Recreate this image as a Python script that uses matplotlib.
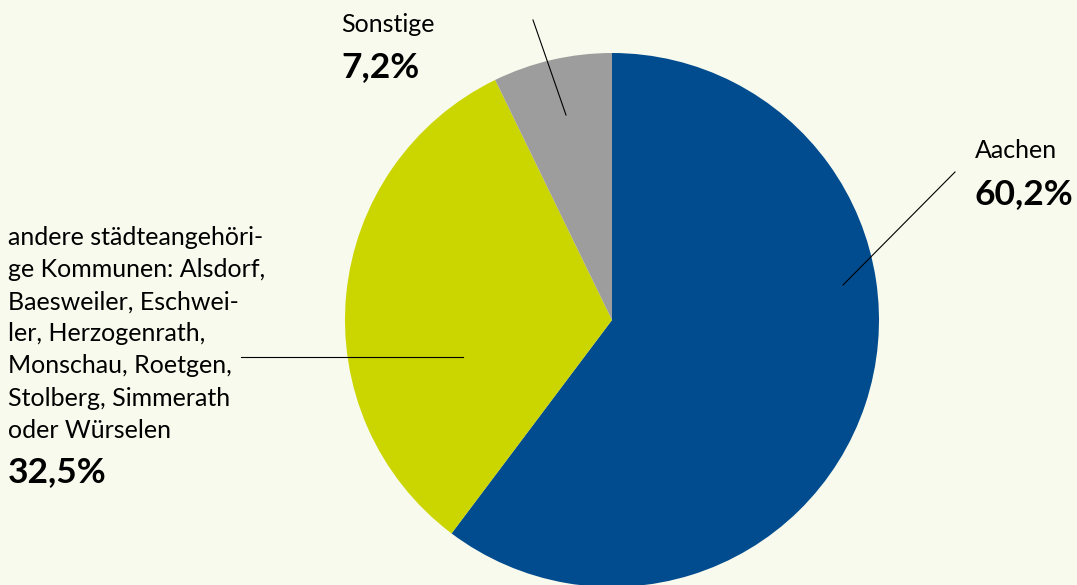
import matplotlib
matplotlib.use("Agg")
import matplotlib.pyplot as plt

# ===== DATA =====
labels = ["Aachen",
          "andere städteangehöri-\nge Kommunen: Alsdorf,\nBaesweiler, Eschwei-\nler, Herzogenrath,\nMonschau, Roetgen,\nStolberg, Simmerath\noder Würselen",
          "Sonstige"]
shares = [60.2, 32.5, 7.2]
pct_labels = ["60,2%", "32,5%", "7,2%"]
colors = ["#004c8e", "#cbd500", "#9d9d9d"]

BG = "#f8faee"
W, H = 1077, 585
plt.rcParams["font.family"] = ["Lato", "DejaVu Sans"]

fig = plt.figure(figsize=(W / 100, H / 100), dpi=100, facecolor=BG)
ax = fig.add_axes([0, 0, 1, 1])
ax.set_facecolor(BG)

# pie in pixel coordinates (y flipped: 0 at bottom)
cx, cy, r = 612, H - 320, 267
ax.pie(shares, colors=colors, startangle=90, counterclock=False,
       center=(cx, cy), radius=r, frame=True,
       wedgeprops=dict(linewidth=0))
ax.set_xlim(0, W)
ax.set_ylim(0, H)
ax.set_aspect("equal")
ax.axis("off")

def py(y):
    return H - y

# leader lines
ax.plot([843, 955], [py(285), py(172)], color="black", lw=0.8)
ax.plot([566, 533], [py(115), py(20)], color="black", lw=0.8)
ax.plot([241, 463], [py(357), py(357)], color="black", lw=0.8)

name_fs, pct_fs = 18, 25.5

# Aachen
ax.text(975, py(158), labels[0], fontsize=name_fs, va="baseline", ha="left")
ax.text(975, py(204), pct_labels[0], fontsize=pct_fs, fontweight="bold", va="baseline", ha="left")

# Sonstige
ax.text(341, py(32), labels[2], fontsize=name_fs, va="baseline", ha="left")
ax.text(341, py(77), pct_labels[2], fontsize=pct_fs, fontweight="bold", va="baseline", ha="left")

# andere Kommunen
ax.text(8, py(226), labels[1], fontsize=name_fs, va="top", ha="left", linespacing=1.48)
ax.text(8, py(482), pct_labels[1], fontsize=pct_fs, fontweight="bold", va="baseline", ha="left")

fig.savefig("out.png", dpi=100, facecolor=BG)
